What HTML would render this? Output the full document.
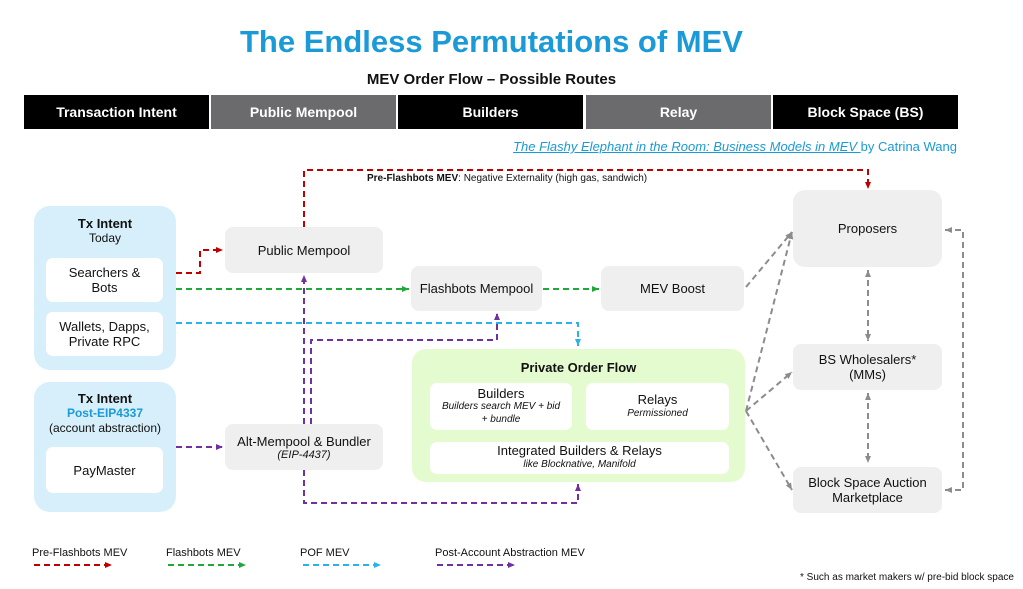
<!DOCTYPE html>
<html><head><meta charset="utf-8"><style>
body{margin:0;width:1023px;height:589px;background:#fff;position:relative;overflow:hidden;font-family:"Liberation Sans",Arial,sans-serif;color:#111}
.a{position:absolute;box-sizing:border-box}
.t{display:flex;flex-direction:column;align-items:center;justify-content:center;text-align:center}
.hd{top:95px;height:34px;color:#fff;font-weight:bold;font-size:14px;display:flex;align-items:center;justify-content:center}
.g{background:#efefef;border-radius:8px;font-size:13px}
.w{background:#fff;border-radius:7px;font-size:13px}
.i{font-style:italic;font-size:10px}
</style></head><body>
<div class="a" style="left:0;width:983px;top:24px;text-align:center;font-size:31px;font-weight:bold;color:#1a9ad6">The Endless Permutations of MEV</div>
<div class="a" style="left:0;width:983px;top:71px;text-align:center;font-size:15px;font-weight:bold">MEV Order Flow – Possible Routes</div>
<div class="a hd" style="left:24px;width:185px;background:#000">Transaction Intent</div>
<div class="a hd" style="left:211px;width:185px;background:#6b6b6e">Public Mempool</div>
<div class="a hd" style="left:398px;width:185px;background:#000">Builders</div>
<div class="a hd" style="left:586px;width:185px;background:#6b6b6e">Relay</div>
<div class="a hd" style="left:773px;width:185px;background:#000">Block Space (BS)</div>
<div class="a" style="right:66px;top:139px;font-size:13px;color:#1a9ad6"><span style="font-style:italic;text-decoration:underline">The Flashy Elephant in the Room: Business Models in MEV </span>by Catrina Wang</div>

<div class="a" style="left:34px;top:206px;width:142px;height:164px;background:#d6effb;border-radius:16px"></div>
<div class="a t" style="left:34px;top:216px;width:142px;font-size:13px"><b>Tx Intent</b><span style="font-size:12px">Today</span></div>
<div class="a w t" style="left:46px;top:258px;width:117px;height:44px">Searchers &amp;<br>Bots</div>
<div class="a w t" style="left:46px;top:312px;width:117px;height:44px">Wallets, Dapps,<br>Private RPC</div>
<div class="a" style="left:34px;top:382px;width:142px;height:130px;background:#d6effb;border-radius:16px"></div>
<div class="a t" style="left:34px;top:391px;width:142px;font-size:13px;line-height:15px"><b>Tx Intent</b><b style="color:#1a9ad6;font-size:12px">Post-EIP4337</b><span style="font-size:12px">(account abstraction)</span></div>
<div class="a w t" style="left:46px;top:447px;width:117px;height:46px">PayMaster</div>

<div class="a g t" style="left:225px;top:227px;width:158px;height:46px">Public Mempool</div>
<div class="a g t" style="left:225px;top:424px;width:158px;height:46px">Alt-Mempool &amp; Bundler<span class="i" style="font-size:11px">(EIP-4437)</span></div>
<div class="a g t" style="left:411px;top:266px;width:131px;height:45px">Flashbots Mempool</div>
<div class="a g t" style="left:601px;top:266px;width:143px;height:45px">MEV Boost</div>
<div class="a" style="left:412px;top:349px;width:333px;height:133px;background:#e4fbcf;border-radius:14px"></div>
<div class="a" style="left:412px;top:360px;width:333px;text-align:center;font-weight:bold;font-size:13px">Private Order Flow</div>
<div class="a w t" style="left:430px;top:383px;width:142px;height:47px;line-height:13px">Builders<span class="i">Builders search MEV + bid<br>+ bundle</span></div>
<div class="a w t" style="left:586px;top:383px;width:143px;height:47px;line-height:14px">Relays<span class="i">Permissioned</span></div>
<div class="a w t" style="left:430px;top:442px;width:299px;height:32px;line-height:14px">Integrated Builders &amp; Relays<span class="i">like Blocknative, Manifold</span></div>

<div class="a g t" style="left:793px;top:190px;width:149px;height:77px;border-radius:12px">Proposers</div>
<div class="a g t" style="left:793px;top:344px;width:149px;height:46px">BS Wholesalers*<br>(MMs)</div>
<div class="a g t" style="left:793px;top:467px;width:149px;height:46px">Block Space Auction<br>Marketplace</div>

<div class="a" style="left:367px;top:173px;font-size:10px"><b>Pre-Flashbots MEV</b>: Negative Externality (high gas, sandwich)</div>

<svg class="a" style="left:0;top:0" width="1023" height="589">
<defs>
<marker id="r" markerUnits="userSpaceOnUse" markerWidth="8" markerHeight="8" refX="7" refY="4" orient="auto"><path d="M0,1L7,4L0,7z" fill="#c00000"/></marker>
<marker id="gr" markerUnits="userSpaceOnUse" markerWidth="8" markerHeight="8" refX="7" refY="4" orient="auto"><path d="M0,1L7,4L0,7z" fill="#22a83a"/></marker>
<marker id="b" markerUnits="userSpaceOnUse" markerWidth="8" markerHeight="8" refX="7" refY="4" orient="auto"><path d="M0,1L7,4L0,7z" fill="#28b4e8"/></marker>
<marker id="p" markerUnits="userSpaceOnUse" markerWidth="8" markerHeight="8" refX="7" refY="4" orient="auto"><path d="M0,1L7,4L0,7z" fill="#7030a0"/></marker>
<marker id="k" markerUnits="userSpaceOnUse" markerWidth="8" markerHeight="8" refX="7" refY="4" orient="auto-start-reverse"><path d="M0,1L7,4L0,7z" fill="#8c8c8c"/></marker>
</defs>
<g fill="none" stroke-width="2" stroke-dasharray="6,4">
<path d="M304,227V170H868V189" stroke="#c00000" marker-end="url(#r)"/>
<path d="M176,273H200V250H223" stroke="#c00000" marker-end="url(#r)"/>
<path d="M176,289H409" stroke="#22a83a" marker-end="url(#gr)"/>
<path d="M543,289H599" stroke="#22a83a" marker-end="url(#gr)"/>
<path d="M176,323H578V346" stroke="#28b4e8" marker-end="url(#b)"/>
<path d="M176,447H223" stroke="#7030a0" marker-end="url(#p)"/>
<path d="M304,424V275" stroke="#7030a0" marker-end="url(#p)"/>
<path d="M311,424V340H497V313" stroke="#7030a0" marker-end="url(#p)"/>
<path d="M304,470V503H578V484" stroke="#7030a0" marker-end="url(#p)"/>
<g stroke="#8c8c8c">
<path d="M746,287L792,232" marker-end="url(#k)"/>
<path d="M746,411L792,232" marker-end="url(#k)"/>
<path d="M746,411L792,372" marker-end="url(#k)"/>
<path d="M746,411L792,490" marker-end="url(#k)"/>
<path d="M868,270V341" marker-start="url(#k)" marker-end="url(#k)"/>
<path d="M868,393V463" marker-start="url(#k)" marker-end="url(#k)"/>
<path d="M945,230H963V490H945" marker-start="url(#k)" marker-end="url(#k)"/>
</g>
<path d="M34,565H112" stroke="#c00000" marker-end="url(#r)"/>
<path d="M168,565H246" stroke="#22a83a" marker-end="url(#gr)"/>
<path d="M303,565H381" stroke="#28b4e8" marker-end="url(#b)"/>
<path d="M437,565H515" stroke="#7030a0" marker-end="url(#p)"/>
</g>
</svg>
<div class="a" style="left:32px;top:547px;font-size:11px">Pre-Flashbots MEV</div>
<div class="a" style="left:166px;top:547px;font-size:11px">Flashbots MEV</div>
<div class="a" style="left:300px;top:547px;font-size:11px">POF MEV</div>
<div class="a" style="left:435px;top:547px;font-size:11px">Post-Account Abstraction MEV</div>
<div class="a" style="right:9px;top:572px;font-size:10px">* Such as market makers w/ pre-bid block space</div>
</body></html>
